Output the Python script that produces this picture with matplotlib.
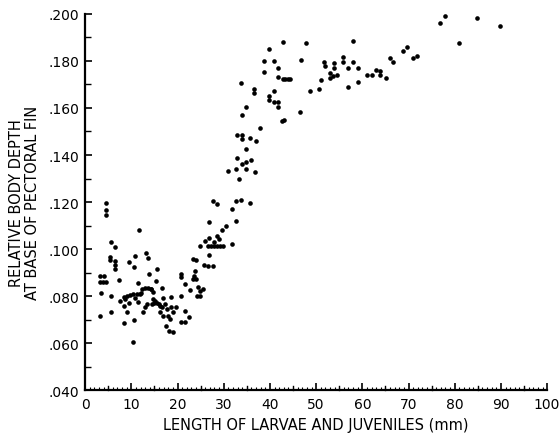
import numpy as np
import matplotlib
matplotlib.use("Agg")
import matplotlib.pyplot as plt
from matplotlib.ticker import MultipleLocator, FuncFormatter

# Body depth data (length in mm, relative depth)
length_mm = [
    4.5, 4.5, 4.5, 11.7, 5.5, 6.5, 13.1, 13.7, 10.8, 5.3, 5.3, 6.5, 6.5, 6.5,
    9.5, 10.5, 13.9, 7.4, 3.2, 4.0, 3.2, 3.9, 4.5, 11.5, 3.5, 5.5, 7.6,
    8.4, 9.1, 9.7, 10.4, 11.3, 11.9, 8.7, 8.5, 9.4, 10.7, 11.5,
    12.3, 13.0, 13.6, 14.3, 14.6, 12.1, 13.0, 12.6, 13.4, 14.4,
    3.2, 5.5, 9.0, 8.5, 10.5, 10.4, 15.4, 15.6, 16.6,
    14.2, 14.7, 15.2, 15.6, 16.0, 16.2, 14.9, 16.9, 18.5, 16.7, 17.3, 17.7,
    16.2, 18.5, 16.9, 18.0, 19.1, 19.7, 18.4, 17.5, 18.2, 19.0, 20.7, 21.6,
    21.6, 22.4, 20.7, 21.6, 20.7, 20.7, 22.6, 23.3, 24.0, 23.7, 23.3, 23.9,
    23.6, 24.5, 24.9, 24.2, 24.9, 25.6,
    24.9, 26.0, 26.8, 26.8, 27.6, 28.6, 25.8, 26.7, 26.8, 27.6,
    26.6, 27.3, 27.9, 28.6, 29.2, 29.9, 28.9, 27.8, 29.6, 28.6, 30.5, 31.7,
    32.7, 31.7, 32.7, 33.7, 35.7,
    31.0, 32.7, 34.8, 36.8, 33.2, 32.8, 33.9, 34.8, 35.9, 34.8, 32.8, 33.9,
    33.9, 35.7, 37.0, 37.9, 33.9, 34.8, 33.8, 36.6, 36.6, 38.7, 40.9, 39.9,
    41.8, 38.7, 41.8, 42.8, 43.3, 43.9, 44.4, 40.8, 39.7, 39.7, 40.8, 41.7,
    41.8, 42.6, 43.1, 42.8,
    47.8, 46.8, 48.7, 46.5, 57.9, 51.7, 51.9, 53.9, 53.9, 55.8, 55.8, 57.9,
    57.0, 59.0, 52.9, 53.7, 54.6, 52.9, 51.0, 50.7, 57.0, 59.0, 61.0, 62.1,
    63.0, 63.9, 63.9, 65.2, 65.9, 66.7, 68.8, 69.7, 70.9, 71.9,
    77.9, 76.8, 84.9, 89.8, 80.9,
]
body_depth = [
    .1196, .1167, .1145, .1082, .1031, .1009, .0983, .0963, .0971, .0966, .0953, .0949, .0932, .0915,
    .0946, .0923, .0894, .0869, .0886, .0886, .0858, .0858, .0858, .0855, .0813, .0801, .0780,
    .0796, .0802, .0806, .0808, .0811, .0808, .0787, .0757, .0770, .0790, .0776,
    .0830, .0836, .0836, .0830, .0817, .0815, .0753, .0733, .0766, .0766,
    .0716, .0733, .0731, .0685, .0699, .0603, .0865, .0915, .0833,
    .0830, .0787, .0779, .0770, .0766, .0757, .0770, .0794, .0798, .0752, .0766, .0745,
    .0731, .0752, .0716, .0716, .0731, .0752, .0702, .0674, .0652, .0648, .0691, .0691,
    .0737, .0712, .0801, .0851, .0894, .0880, .0827, .0957, .0954, .0908, .0872, .0872,
    .0884, .0837, .0823, .0799, .0801, .0830,
    .1014, .1035, .1046, .1113, .1206, .1191, .0932, .0926, .0974, .0926,
    .1014, .1014, .1014, .1014, .1014, .1014, .1043, .1028, .1082, .1057, .1096, .1170,
    .1120, .1021, .1206, .1210, .1198,
    .1333, .1340, .1340, .1326, .1300, .1386, .1362, .1369, .1380, .1426, .1485, .1485,
    .1468, .1471, .1461, .1514, .1570, .1603, .1706, .1681, .1663, .1801, .1800, .1851,
    .1768, .1751, .1733, .1723, .1723, .1723, .1723, .1674, .1652, .1634, .1624, .1624,
    .1606, .1546, .1550, .1879,
    .1877, .1803, .1674, .1584, .1883, .1797, .1780, .1791, .1769, .1817, .1797, .1797,
    .1771, .1771, .1749, .1734, .1740, .1726, .1720, .1681, .1689, .1711, .1740, .1740,
    .1763, .1759, .1740, .1729, .1811, .1797, .1843, .1858, .1811, .1822,
    .1991, .1963, .1983, .1950, .1877,
]

fig = plt.figure(figsize=(5.6, 4.39), dpi=100)
ax = fig.add_axes([0.152, 0.109, 0.825, 0.857])

ax.scatter(length_mm, body_depth, s=11, color="black", linewidths=0)

ax.set_xlim(0, 100)
ax.set_ylim(0.040, 0.200)

# spines: only left and bottom
ax.spines["top"].set_visible(False)
ax.spines["right"].set_visible(False)
ax.spines["left"].set_linewidth(1.6)
ax.spines["bottom"].set_linewidth(1.6)

ax.xaxis.set_major_locator(MultipleLocator(10))
ax.xaxis.set_minor_locator(MultipleLocator(1))
ax.yaxis.set_major_locator(MultipleLocator(0.020))
ax.yaxis.set_minor_locator(MultipleLocator(0.010))

ax.tick_params(axis="x", which="major", direction="in", length=5, width=1.2,
               labelsize=10, pad=5)
ax.tick_params(axis="x", which="minor", direction="in", length=2.5, width=0.8)
ax.tick_params(axis="y", which="major", direction="in", length=5, width=1.2,
               labelsize=10, pad=4)
ax.tick_params(axis="y", which="minor", direction="in", length=4, width=1.0)

# medium ticks every 5 mm
for xv in np.arange(5, 100, 10):
    ax.plot([xv, xv], [0.040, 0.0416], color="black", lw=1.0, clip_on=False)

ax.yaxis.set_major_formatter(FuncFormatter(lambda v, p: ("%.3f" % v).lstrip("0")))

ax.set_xlabel("LENGTH OF LARVAE AND JUVENILES (mm)", fontsize=10.5, labelpad=4)
ax.set_ylabel("RELATIVE BODY DEPTH\nAT BASE OF PECTORAL FIN", fontsize=10.5,
              labelpad=6, linespacing=1.1)

fig.savefig("out.png", dpi=100)
